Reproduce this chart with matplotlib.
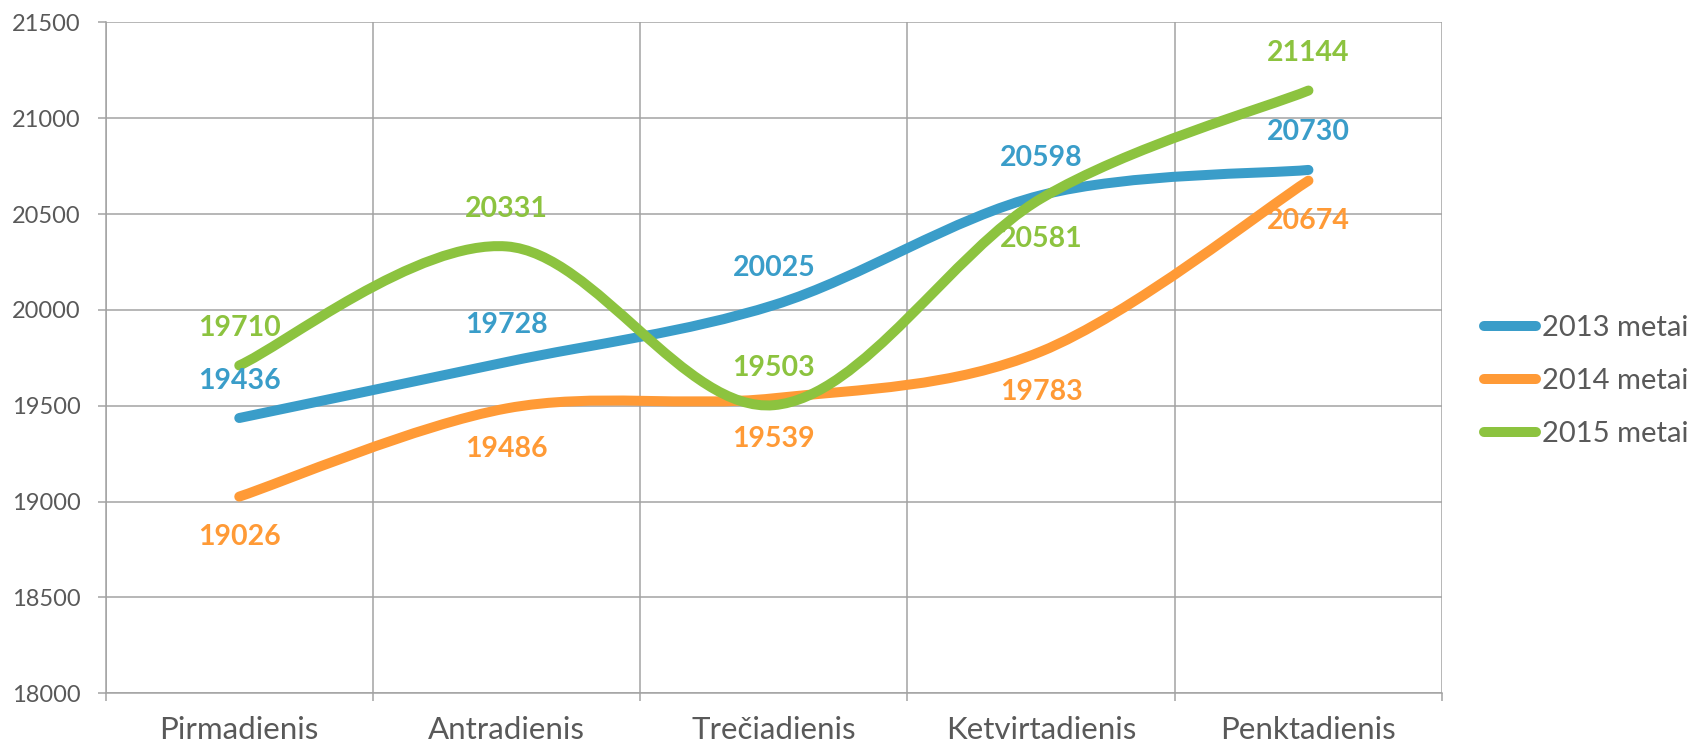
#!/usr/bin/env python3
"""Weekday averages for 2013-2015, Excel-style smoothed lines."""

import matplotlib
matplotlib.use("Agg")
import matplotlib.pyplot as plt
import numpy as np
from matplotlib.path import Path
from matplotlib.patches import PathPatch
from matplotlib.lines import Line2D


DAYS = ["Pirmadienis", "Antradienis", "Trečiadienis", "Ketvirtadienis", "Penktadienis"]
SERIES_NAMES = ["2013 metai", "2014 metai", "2015 metai"]
VALUES_2013 = [19436, 19728, 20025, 20598, 20730]
VALUES_2014 = [19026, 19486, 19539, 19783, 20674]
VALUES_2015 = [19710, 20331, 19503, 20581, 21144]
# label placement: +1 above the point, -1 below
LABEL_SIDE_2013 = [1, 1, 1, 1, 1]
LABEL_SIDE_2014 = [-1, -1, -1, -1, -1]
LABEL_SIDE_2015 = [1, 1, 1, -1, 1]
Y_TICKS = [18000, 18500, 19000, 19500, 20000, 20500, 21000, 21500]

COLORS = ["#3A9DC9", "#FF9A36", "#8CC33F"]
GRID_COLOR = "#A3A3A3"
TEXT_COLOR = "#595959"
FONT = "Lato"


def smooth_path(xs, ys):
    """Bezier path through the points like Excel's 'smoothed line'."""
    pts = np.column_stack([xs, ys]).astype(float)
    n = len(pts)
    verts = [pts[0]]
    codes = [Path.MOVETO]
    for i in range(n - 1):
        p_prev = pts[max(i - 1, 0)]
        p0 = pts[i]
        p1 = pts[i + 1]
        p_next = pts[min(i + 2, n - 1)]
        c1 = p0 + (p1 - p_prev) / 6.0
        c2 = p1 - (p_next - p0) / 6.0
        verts += [c1, c2, p1]
        codes += [Path.CURVE4] * 3
    return Path(verts, codes)


def main():
    plt.rcParams["font.family"] = [FONT, "DejaVu Sans"]

    fig = plt.figure(figsize=(16.9, 7.48), dpi=100)
    ax = fig.add_axes([0.0625, 0.0731, 0.7908, 0.8971])

    x = np.arange(len(DAYS)) + 0.5
    all_values = [VALUES_2013, VALUES_2014, VALUES_2015]
    all_sides = [LABEL_SIDE_2013, LABEL_SIDE_2014, LABEL_SIDE_2015]

    for values, sides, color in zip(all_values, all_sides, COLORS):
        patch = PathPatch(
            smooth_path(x, values),
            facecolor="none",
            edgecolor=color,
            linewidth=7.2,
            capstyle="round",
            joinstyle="round",
            zorder=3,
        )
        ax.add_patch(patch)
        for xi, value, side in zip(x, values, sides):
            ax.annotate(
                f"{value}",
                (xi, value),
                xytext=(0, 27 if side > 0 else -29),
                textcoords="offset points",
                ha="center",
                va="center",
                fontsize=20.5,
                fontweight="bold",
                color=color,
                zorder=4,
            )

    ax.set_xlim(0, len(DAYS))
    ax.set_ylim(Y_TICKS[0], Y_TICKS[-1])
    ax.set_yticks(Y_TICKS)
    ax.set_xticks(np.arange(len(DAYS) + 1))
    ax.set_xticklabels([])
    ax.set_xticks(x, minor=True)
    ax.set_xticklabels(DAYS, minor=True)
    ax.tick_params(axis="x", which="minor", length=0, pad=16, labelsize=22.5, labelcolor=TEXT_COLOR)
    ax.tick_params(axis="x", which="major", length=6, width=1.1, color=GRID_COLOR)
    ax.tick_params(axis="y", length=6, width=1.1, color=GRID_COLOR, pad=12, labelsize=17, labelcolor=TEXT_COLOR)

    ax.grid(True, which="major", color=GRID_COLOR, linewidth=1.1)
    ax.set_axisbelow(True)
    for side in ["top", "right"]:
        ax.spines[side].set_visible(False)
    for side in ["left", "bottom"]:
        ax.spines[side].set_color(GRID_COLOR)
        ax.spines[side].set_linewidth(1.1)

    handles = [
        Line2D([], [], color=c, linewidth=7.2, solid_capstyle="round") for c in COLORS
    ]
    fig.legend(
        handles,
        SERIES_NAMES,
        loc="center left",
        bbox_to_anchor=(1484 / 1690, 1 - 381 / 748),
        frameon=False,
        fontsize=21,
        handlelength=1.8,
        handletextpad=0.2,
        labelspacing=0.93,
        borderpad=0,
        borderaxespad=0,
        labelcolor=TEXT_COLOR,
    )

    fig.savefig("out.png", dpi=100)
    plt.close(fig)


if __name__ == "__main__":
    main()
